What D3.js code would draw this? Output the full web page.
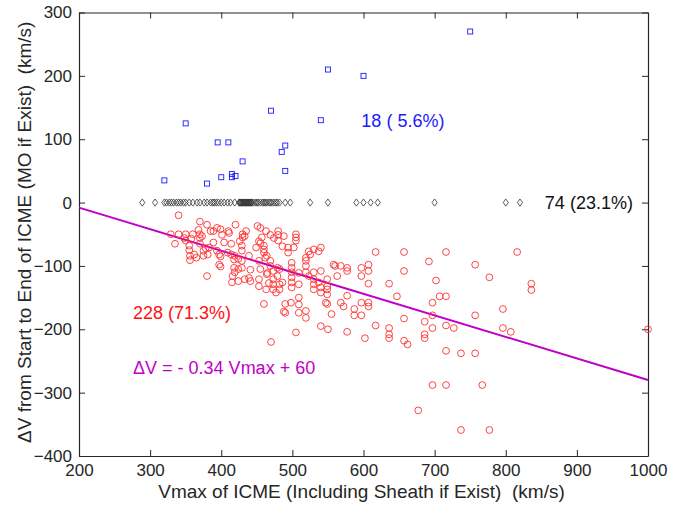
<!DOCTYPE html>
<html>
<head>
<meta charset="utf-8">
<script src="https://cdn.jsdelivr.net/npm/d3@7"></script>
<style>
  html, body { margin: 0; padding: 0; background: #fff; }
  svg { display: block; font-family: "Liberation Sans", Arial, sans-serif; }
  .lbl { white-space: pre; }
</style>
</head>
<body>
<svg id="chart" width="680" height="508"></svg>
<script>
// ICMEs with decelerating flow: [Vmax, dV]
const redPoints = [
  [340,-20],[370,-30],[380,-35],[420,-35],[455,-40],[463,-45],[480,-45],[480,-51],[480,-60],
  [505,-50],[505,-55],[505,-60],[394,-40],[399,-42],[389,-45],[410,-45],[430,-50],[430,-55],
  [435,-45],[329,-50],[340,-50],[350,-50],[360,-50],[370,-50],[335,-65],[350,-60],[355,-68],
  [356,-84],[356,-91],[365,-87],[370,-56],[370,-65],[375,-76],[375,-84],[380,-116],[383,-71],
  [389,-63],[394,-76],[399,-85],[399,-101],[404,-63],[409,-79],[414,-65],[414,-82],[419,-84],
  [424,-89],[429,-76],[429,-68],[429,-92],[429,-103],[424,-105],[419,-110],[415,-126],[424,-124],
  [433,-121],[439,-84],[449,-71],[453,-61],[457,-55],[453,-92],[460,-68],[464,-84],[460,-79],
  [469,-92],[469,-100],[455,-105],[464,-113],[473,-108],[482,-105],[453,-121],[453,-132],
  [463,-137],[460,-160],[473,-121],[473,-129],[473,-137],[477,-142],[482,-137],[482,-129],
  [486,-126],[490,-160],[490,-174],[494,-71],[494,-79],[499,-95],[499,-103],[499,-110],
  [499,-118],[499,-126],[499,-134],[509,-129],[509,-150],[509,-161],[509,-174],[519,-92],
  [519,-100],[519,-110],[519,-171],[519,-182],[525,-82],[530,-74],[540,-71],[530,-110],
  [530,-121],[530,-129],[530,-137],[537,-126],[540,-134],[540,-142],[549,-132],[549,-137],
  [549,-145],[540,-108],[549,-121],[549,-160],[555,-176],[560,-100],[470,-220],[505,-205],
  [540,-195],[550,-200],
  [568,-100],[577,-103],[577,-108],[597,-103],[597,-116],[607,-98],[607,-108],[607,-128],
  [617,-78],[636,-128],[657,-78],[657,-108],[692,-93],[702,-123],[716,-78],[757,-98],
  [777,-118],[816,-78],[836,-128],[836,-138],[577,-147],[568,-158],[572,-164],[587,-168],
  [587,-178],[597,-158],[597,-178],[607,-158],[607,-164],[617,-194],[647,-148],[657,-183],
  [686,-188],[697,-158],[697,-178],[697,-198],[707,-148],[716,-148],[716,-194],[727,-198],
  [757,-178],[796,-168],[796,-198],[807,-204],[577,-204],[602,-214],[636,-198],[636,-208],
  [636,-214],[657,-218],[662,-224],[686,-208],[686,-214],[716,-234],[737,-238],[757,-238],
  [1000,-200],[697,-288],[716,-288],[767,-288],[677,-328],[737,-359],[777,-359],[563,-116],
  [348,-56],[358,-57],[368,-43],[373,-53],[362,-82],[355,-75],
  [385,-45],[401,-51],[411,-48],[433,-53],[451,-37],[469,-51],[474,-56],[426,-61],[455,-64],
  [460,-74],[378,-72],[381,-82],[397,-82],[418,-90],[397,-98],[418,-103],[441,-106],[465,-111],
  [479,-116],[416,-116],[439,-119],[441,-124],[467,-127],[462,-87],
  [488,-53],[486,-69],[502,-71],[523,-77],[537,-77],[519,-87],[479,-103],[509,-111],[523,-116],
  [558,-98],[498,-158],[488,-172],[547,-158]
];

// ICMEs with accelerating flow: [Vmax, dV]
const bluePoints = [
  [750,270],[550,210],[600,200],[470,145],[540,130],[350,125],[395,95],[410,95],[490,90],
  [485,80],[430,65],[490,50],[320,35],[380,30],[400,40],[415,45],[420,42],[415,40]
];

// ICMEs with no change (dV = 0): Vmax values
const zeroVmax = [
  289,307,
  320,323,327,330,333,337,340,343,347,350,
  355,360,366,370,
  376,380,385,388,390,393,396,400,404,409,
  413,419,
  425,426,427,428,429,430,431,432,433,434,435,436,437,438,439,440,441,442,443,445,
  448,450,452,455,458,460,462,464,467,469,471,474,477,479,482,
  490,497,525,550,590,600,610,620,700,800,820
];

// fit: dV = slope * Vmax + intercept
const fitSlope = -0.34;
const fitIntercept = 60;

const xTicks = [200,300,400,500,600,700,800,900,1000];
const yTicks = [-400,-300,-200,-100,0,100,200,300];

const svg = d3.select('#chart');
const margin = { top: 12.5, right: 32, bottom: 52, left: 79 };
const W = 680, H = 508;
const width = W - margin.left - margin.right;
const height = H - margin.top - margin.bottom;

const g = svg.append('g').attr('transform', `translate(${margin.left},${margin.top})`);

const x = d3.scaleLinear().domain([200, 1000]).range([0, width]);
const y = d3.scaleLinear().domain([-400, 300]).range([height, 0]);

const axisColor = '#262626';

// axes (ticks pointing inward, box on)
const xb = g.append('g').attr('transform', `translate(0,${height})`)
  .call(d3.axisBottom(x).tickValues(xTicks).tickSizeInner(-6).tickSizeOuter(0).tickPadding(8).tickFormat(d3.format('d')));
const xt = g.append('g')
  .call(d3.axisTop(x).tickValues(xTicks).tickSizeInner(-6).tickSizeOuter(0).tickFormat(''));
const yl = g.append('g')
  .call(d3.axisLeft(y).tickValues(yTicks).tickSizeInner(-6).tickSizeOuter(0).tickPadding(7).tickFormat(d3.format('d')));
const yr = g.append('g').attr('transform', `translate(${width},0)`)
  .call(d3.axisRight(y).tickValues(yTicks).tickSizeInner(-6).tickSizeOuter(0).tickFormat(''));

[xb, xt, yl, yr].forEach(a => {
  a.select('.domain').attr('stroke', axisColor).attr('stroke-width', 1.2);
  a.selectAll('.tick line').attr('stroke', axisColor).attr('stroke-width', 1);
  a.selectAll('.tick text').attr('fill', '#262626').attr('font-size', 17)
    .attr('font-family', '"Liberation Sans", Arial, sans-serif');
});

// fit line
const lineData = [200, 1000].map(v => [v, fitSlope * v + fitIntercept]);
g.append('path')
  .datum(lineData)
  .attr('d', d3.line().x(d => x(d[0])).y(d => y(d[1])))
  .attr('fill', 'none')
  .attr('stroke', '#bf00c8')
  .attr('stroke-width', 2);

// zero-change diamonds
g.selectAll('.dia')
  .data(zeroVmax)
  .enter().append('path')
  .attr('class', 'dia')
  .attr('transform', d => `translate(${x(d)},${y(0)})`)
  .attr('d', 'M0,-3.6L2.6,0L0,3.6L-2.6,0Z')
  .attr('fill', 'none')
  .attr('stroke', '#333')
  .attr('stroke-width', 0.8);

// accelerating squares
g.selectAll('.sq')
  .data(bluePoints)
  .enter().append('rect')
  .attr('class', 'sq')
  .attr('x', d => x(d[0]) - 2.5)
  .attr('y', d => y(d[1]) - 2.5)
  .attr('width', 5)
  .attr('height', 5)
  .attr('fill', 'none')
  .attr('stroke', '#1a1aff')
  .attr('stroke-width', 0.9);

// decelerating circles
g.selectAll('.circ')
  .data(redPoints)
  .enter().append('circle')
  .attr('class', 'circ')
  .attr('cx', d => x(d[0]))
  .attr('cy', d => y(d[1]))
  .attr('r', 3.4)
  .attr('fill', 'none')
  .attr('stroke', '#ff3030')
  .attr('stroke-width', 0.9);

// annotations
const notes = [
  { t: '18 ( 5.6%)', vx: 597, vy: 129, c: '#1a1aff' },
  { t: '74 (23.1%)', vx: 855, vy: 0, c: '#111' },
  { t: '228 (71.3%)', vx: 276, vy: -174, c: '#ff1010' },
  { t: '\u0394V = - 0.34 Vmax + 60', vx: 276, vy: -261, c: '#bf00c8' }
];
g.selectAll('.note')
  .data(notes)
  .enter().append('text')
  .attr('class', 'note')
  .attr('x', d => x(d.vx))
  .attr('y', d => y(d.vy))
  .attr('dy', '0.35em')
  .attr('fill', d => d.c)
  .attr('font-size', 18)
  .text(d => d.t);

// axis labels
svg.append('text')
  .attr('class', 'lbl')
  .attr('x', margin.left + width / 2 - 2)
  .attr('y', 498)
  .attr('text-anchor', 'middle')
  .attr('font-size', 19)
  .attr('fill', '#262626')
  .text('Vmax of ICME (Including Sheath if Exist)  (km/s)');

svg.append('text')
  .attr('class', 'lbl')
  .attr('transform', `translate(31,${margin.top + height / 2 - 2}) rotate(-90)`)
  .attr('text-anchor', 'middle')
  .attr('font-size', 19)
  .attr('fill', '#262626')
  .text('\u0394V from Start to End of ICME (MO if Exist)  (km/s)');
</script>
</body>
</html>
